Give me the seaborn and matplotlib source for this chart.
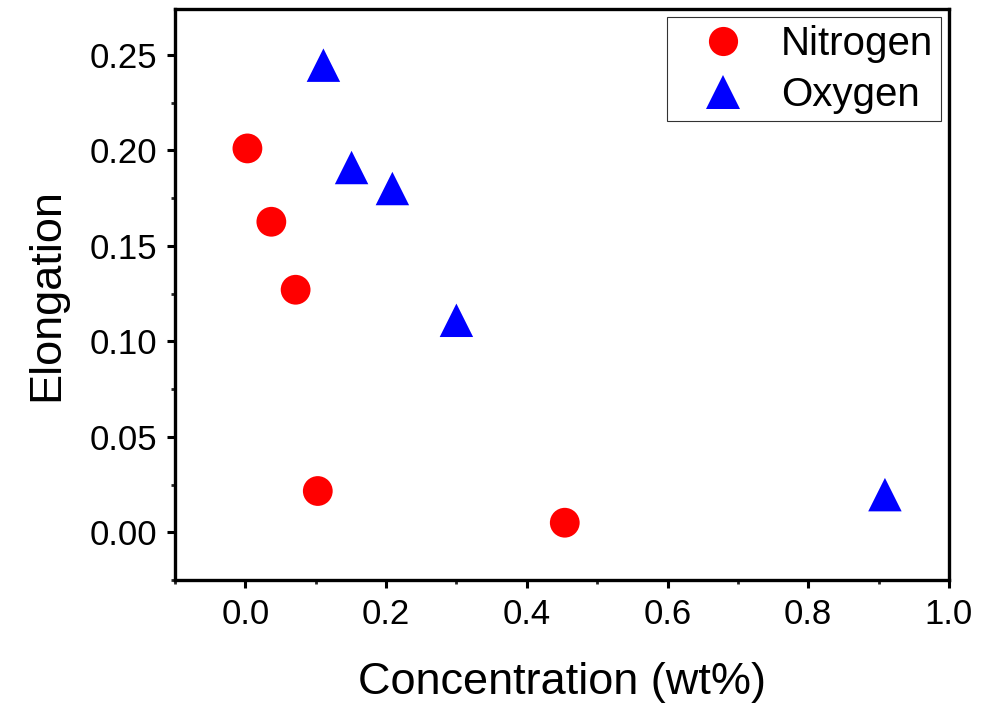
import matplotlib
matplotlib.use("Agg")
import matplotlib.pyplot as plt
import seaborn as sns
import pandas as pd
from matplotlib.ticker import MultipleLocator, FormatStrFormatter
from matplotlib.lines import Line2D

# Data
nitrogen_x = [0.003, 0.037, 0.0715, 0.103, 0.454]
nitrogen_y = [0.201, 0.1626, 0.127, 0.0216, 0.0050]
oxygen_x = [0.111, 0.151, 0.209, 0.300, 0.909]
oxygen_y = [0.2446, 0.191, 0.180, 0.111, 0.0197]
series_names = ["Nitrogen", "Oxygen"]
x_label = "Concentration (wt%)"
y_label = "Elongation"

df = pd.DataFrame({
    "x": nitrogen_x + oxygen_x,
    "y": nitrogen_y + oxygen_y,
    "Element": [series_names[0]] * len(nitrogen_x) + [series_names[1]] * len(oxygen_x),
})

sns.set_theme(style="white")
plt.rcParams["font.family"] = ["Liberation Sans", "DejaVu Sans"]
plt.rcParams["text.color"] = "black"

fig = plt.figure(figsize=(9.94, 7.05), dpi=100)
ax = fig.add_axes([0.176, 0.1773, 0.9547 - 0.176, 0.9872 - 0.1773])

sns.scatterplot(
    data=df, x="x", y="y", hue="Element", style="Element", size="Element",
    palette={"Nitrogen": "#ff0000", "Oxygen": "#0000ff"},
    markers={"Nitrogen": "o", "Oxygen": "^"},
    sizes={"Nitrogen": 460, "Oxygen": 580},
    linewidth=0, edgecolor="none", ax=ax, legend=False,
)

ax.set_xlim(-0.1, 1.0)
ax.set_ylim(-0.025, 0.274)
ax.xaxis.set_major_locator(MultipleLocator(0.2))
ax.xaxis.set_minor_locator(MultipleLocator(0.1))
ax.yaxis.set_major_locator(MultipleLocator(0.05))
ax.yaxis.set_minor_locator(MultipleLocator(0.025))
ax.xaxis.set_major_formatter(FormatStrFormatter("%.1f"))
ax.yaxis.set_major_formatter(FormatStrFormatter("%.2f"))

for sp in ax.spines.values():
    sp.set_visible(True)
    sp.set_color("black")
    sp.set_linewidth(2.4)

ax.tick_params(axis="both", which="major", direction="out", length=6, width=2.2,
               labelsize=25, colors="black", pad=7,
               bottom=True, left=True, top=False, right=False)
ax.tick_params(axis="both", which="minor", direction="out", length=3, width=2.0,
               bottom=True, left=True, top=False, right=False)

ax.set_xlabel(x_label, fontsize=32.5, color="black", labelpad=22)
ax.set_ylabel(y_label, fontsize=32.5, color="black", labelpad=16)

handles = [
    Line2D([], [], linestyle="none", marker="o", color="#ff0000", markersize=21, markeredgewidth=0),
    Line2D([], [], linestyle="none", marker="^", color="#0000ff", markersize=24, markeredgewidth=0),
]
leg = ax.legend(handles, series_names, loc="upper right", fontsize=29,
                frameon=True, fancybox=False, edgecolor="black",
                borderpad=0.19, handletextpad=0.25, labelspacing=0.32,
                borderaxespad=0.2, handlelength=2.4)
leg.get_frame().set_linewidth(0.8)
for t in leg.get_texts():
    t.set_color("black")

fig.savefig("out.png", dpi=100)
